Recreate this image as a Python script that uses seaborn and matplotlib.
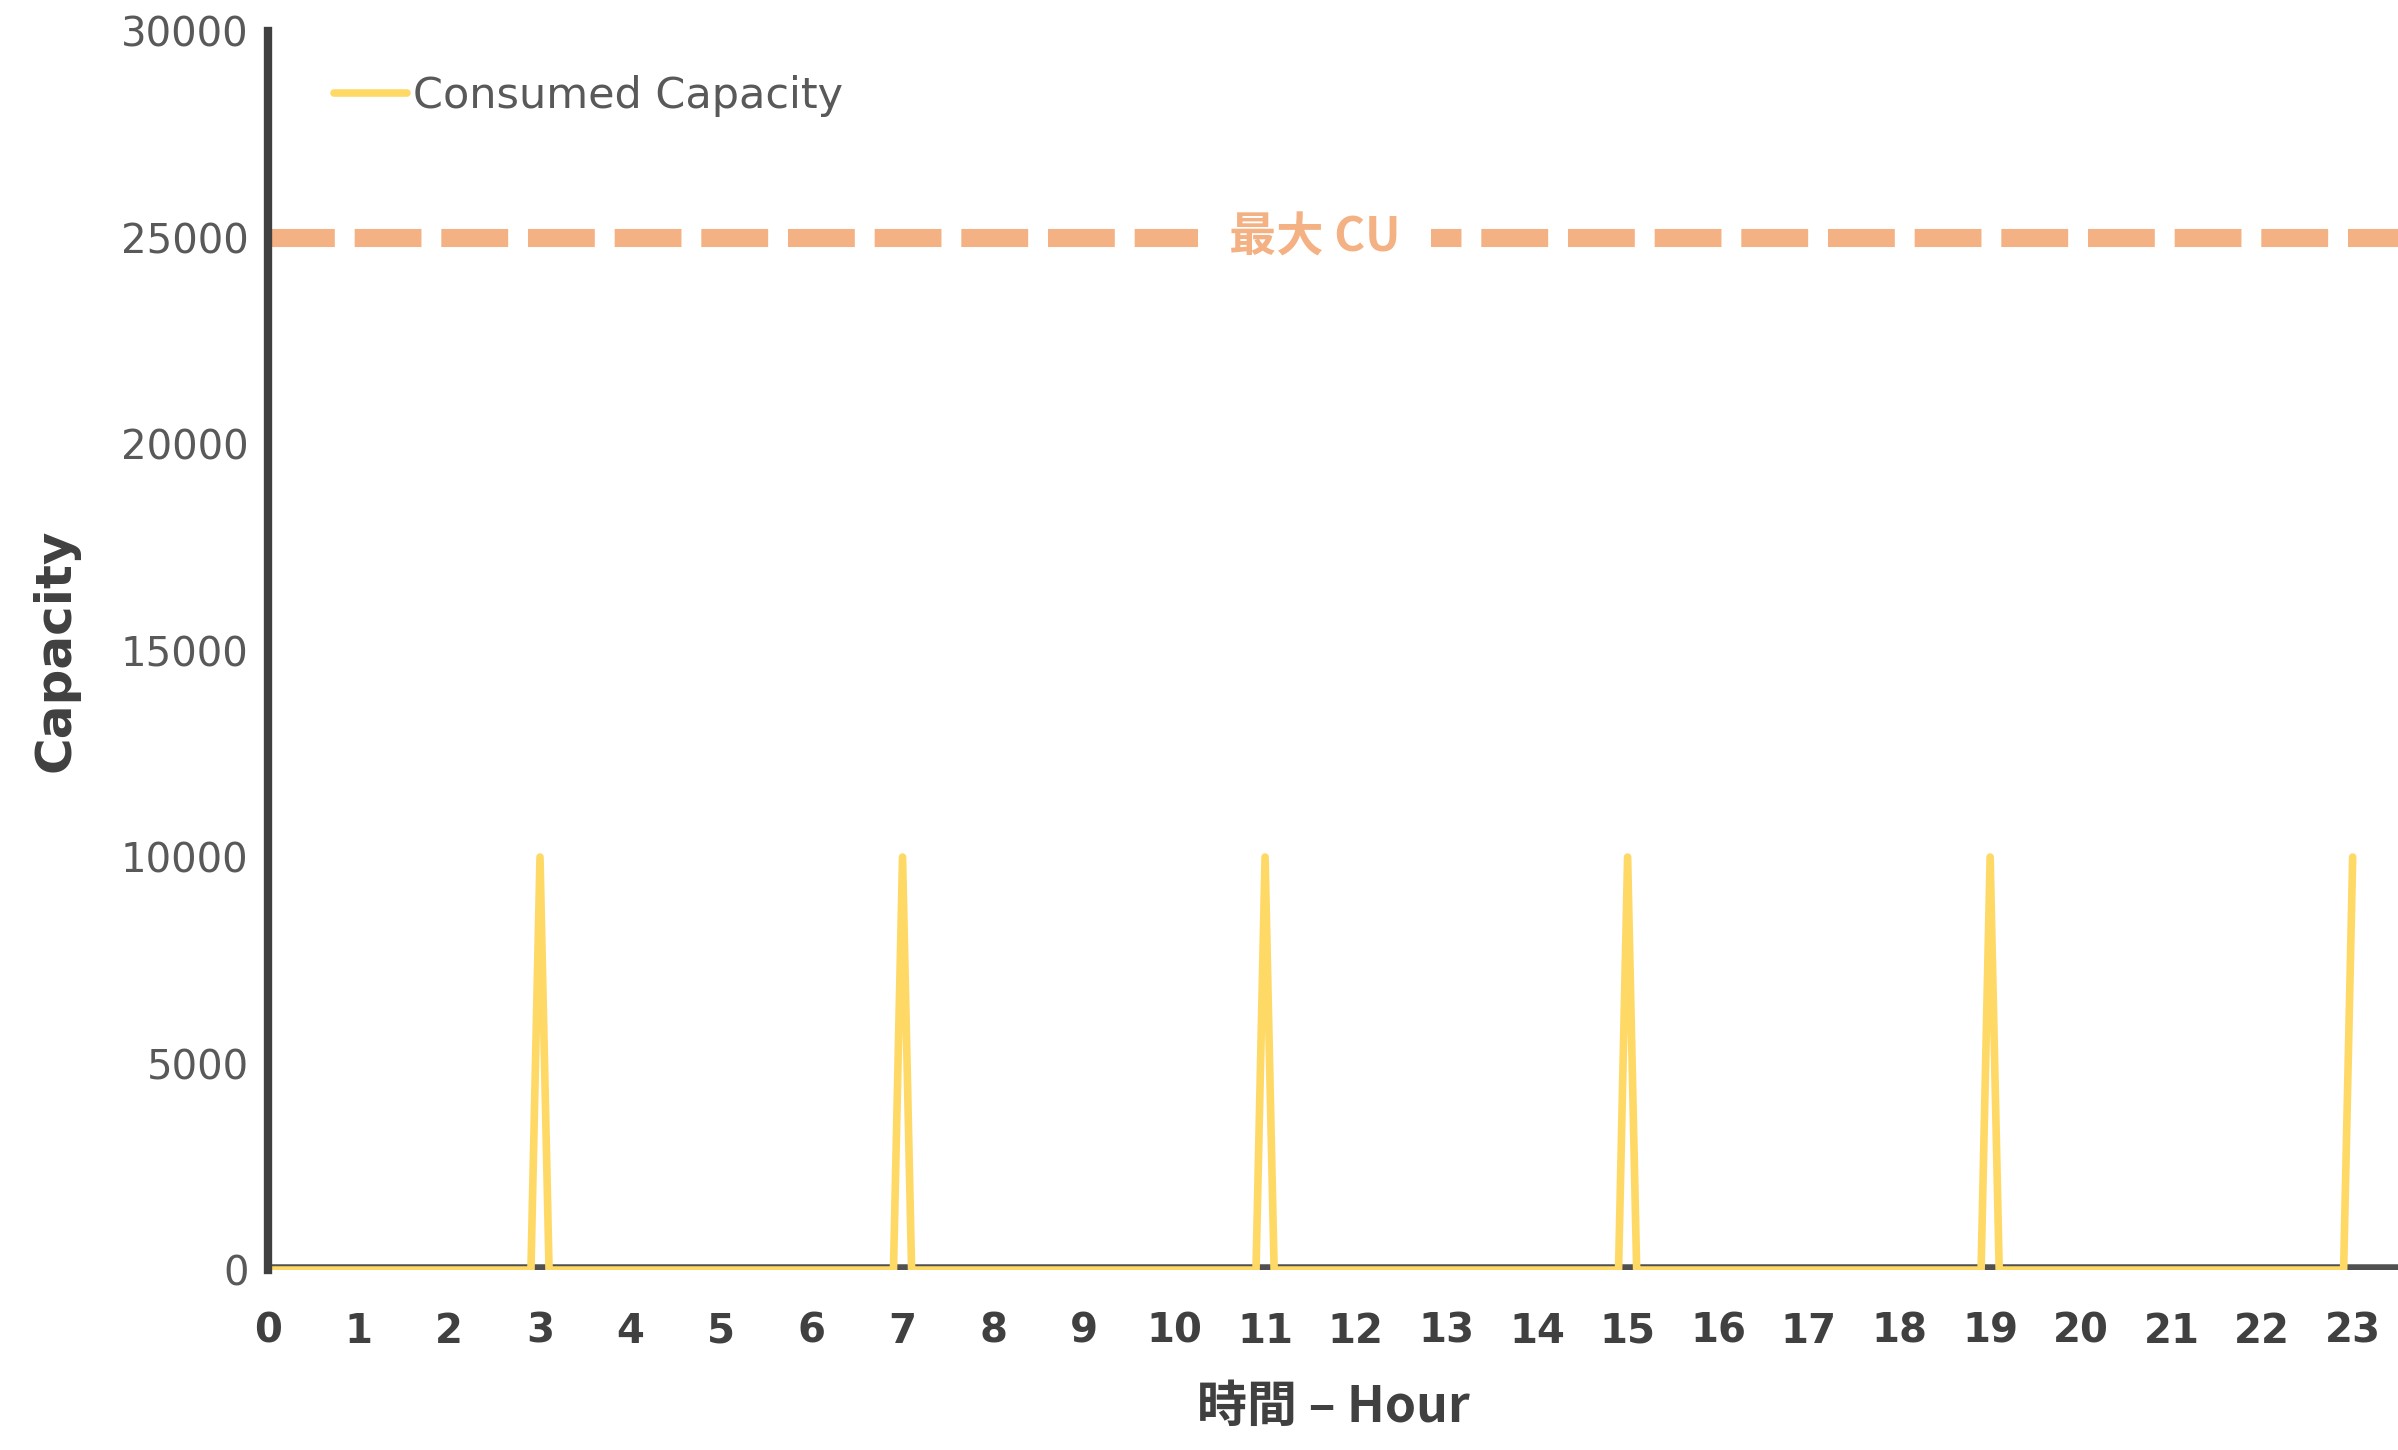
import matplotlib
matplotlib.use("Agg")
import matplotlib.pyplot as plt
import seaborn as sns
import pandas as pd

# data: consumed capacity by hour (short spikes every 4 hours)
hours = [0, 2.9, 3, 3.1, 6.9, 7, 7.1, 10.9, 11, 11.1, 14.9, 15, 15.1,
         18.9, 19, 19.1, 22.9, 23]
capacity = [0, 0, 10000, 0, 0, 10000, 0, 0, 10000, 0, 0, 10000, 0,
            0, 10000, 0, 0, 10000]
max_cu = 25000
x_ticks = list(range(24))
y_ticks = [0, 5000, 10000, 15000, 20000, 25000, 30000]

sns.set_style("white")
plt.rcParams['font.family'] = ['DejaVu Sans', 'Noto Sans CJK JP']

df = pd.DataFrame({"hour": hours, "capacity": capacity})

fig = plt.figure(figsize=(23.98, 14.5), dpi=100)
ax = fig.add_axes([0.1118, 0.1241, 0.8882, 0.8545])

ax.axhline(max_cu, color="#F4B183", lw=13, dashes=(3.7, 1.1), zorder=1)
ax.axhline(0, color="#505050", lw=9, zorder=2)
sns.lineplot(data=df, x="hour", y="capacity", ax=ax, color="#FFD966",
             lw=5.5, label="Consumed Capacity", zorder=3)

ax.text(11.55, max_cu, "最大 CU", color="#F4B183", fontsize=34, fontweight="bold",
        ha="center", va="center", family=['Noto Sans CJK JP', 'DejaVu Sans'],
        bbox=dict(facecolor="white", edgecolor="none", pad=22), zorder=2)

ax.set_xlim(0, 23.5)
ax.set_ylim(0, 30000)
ax.set_xticks(x_ticks)
ax.set_yticks(y_ticks)
ax.set_xticklabels([str(h) for h in x_ticks], fontsize=29, fontweight="bold", color="#404040")
ax.set_yticklabels([str(v) for v in y_ticks], fontsize=29, color="#595959")
ax.tick_params(axis="y", length=8, width=5, color="#404040", pad=6)
ax.tick_params(axis="x", length=0, pad=30)

for s in ["top", "right", "bottom"]:
    ax.spines[s].set_visible(False)
ax.spines["left"].set_linewidth(6)
ax.spines["left"].set_color("#404040")
ax.spines["left"].set_zorder(4)

ax.set_xlabel("時間 – Hour", fontsize=36, fontweight="bold", color="#404040",
              family=['Noto Sans CJK JP', 'DejaVu Sans'], labelpad=22)
ax.set_ylabel("Capacity", fontsize=36, fontweight="bold", color="#404040", labelpad=30)

leg = ax.legend(loc="upper left", bbox_to_anchor=(0.123, 0.975), bbox_transform=fig.transFigure,
                frameon=False, fontsize=31, handlelength=1.7, handletextpad=0.15)
for t in leg.get_texts():
    t.set_color("#595959")

fig.savefig("out.png", dpi=100)
